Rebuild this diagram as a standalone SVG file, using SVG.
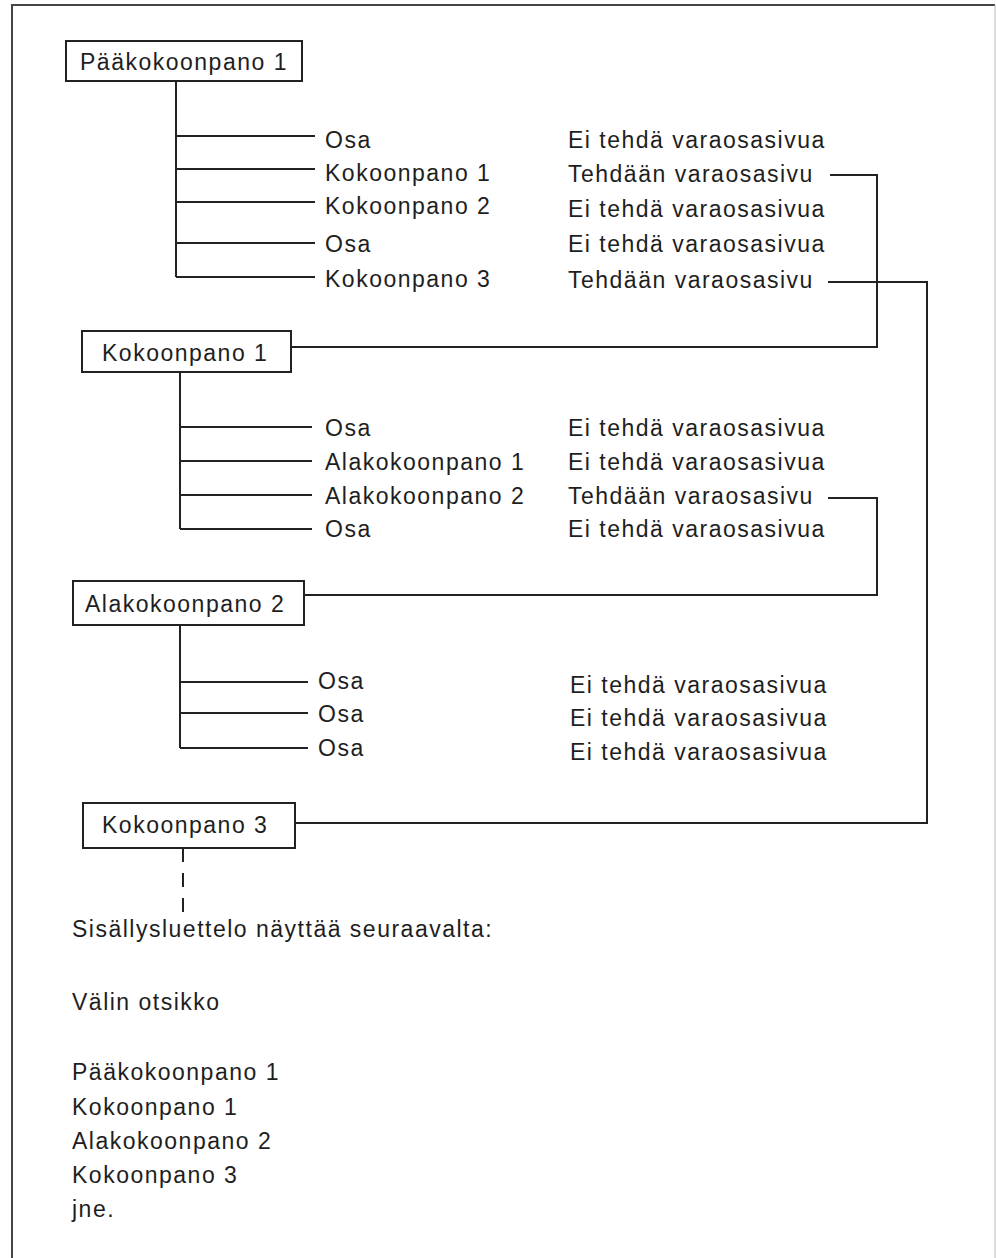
<svg xmlns="http://www.w3.org/2000/svg" width="996" height="1258" viewBox="0 0 996 1258">
  <style>
    .t { font-family: "Liberation Sans", Arial, sans-serif; font-size: 23px; letter-spacing: 1.5px; fill: #1e1e1e; }
    .box { fill: #ffffff; stroke: #222222; stroke-width: 2; }
    .ln { fill: none; stroke: #222222; stroke-width: 2; }
    .dash { fill: none; stroke: #222222; stroke-width: 2; stroke-dasharray: 14 11; }
  </style>
  <rect x="0" y="0" width="996" height="1258" fill="#ffffff"/>
  <!-- page frame -->
  <g id="frame">
    <line x1="11" y1="5" x2="995" y2="5" stroke="#444444" stroke-width="2"/>
    <line x1="12" y1="4" x2="12" y2="1258" stroke="#444444" stroke-width="2"/>
    <line x1="995" y1="5" x2="995" y2="1258" stroke="#bbbbbb" stroke-width="1"/>
  </g>

  <!-- connectors -->
  <g id="connectors">
    <!-- main assembly tree -->
    <path class="ln" d="M176 81 V277 M176 136 H315 M176 169 H315 M176 202 H315 M176 243 H315 M176 277 H315"/>
    <!-- assembly 1 tree -->
    <path class="ln" d="M180 372 V529 M180 427 H312 M180 461 H312 M180 495 H312 M180 529 H312"/>
    <!-- subassembly 2 tree -->
    <path class="ln" d="M180 625 V748 M180 682 H308 M180 713 H308 M180 748 H308"/>
    <!-- spare-part page links -->
    <path class="ln" d="M830 175 H877 V347 H291"/>
    <path class="ln" d="M828 282 H927 V823 H295"/>
    <path class="ln" d="M828 498 H877 V595 H304"/>
    <!-- continuation -->
    <path class="dash" d="M183 848 V914"/>
  </g>

  <g id="node-paakokoonpano1">
    <rect class="box" x="66" y="41" width="236" height="40"/>
    <text class="t" x="80" y="70">Pääkokoonpano 1</text>
  </g>
  <g id="rows-paakokoonpano1">
    <text class="t" x="325" y="148">Osa</text>
    <text class="t" x="325" y="181">Kokoonpano 1</text>
    <text class="t" x="325" y="214">Kokoonpano 2</text>
    <text class="t" x="325" y="252">Osa</text>
    <text class="t" x="325" y="287">Kokoonpano 3</text>
    <text class="t" x="568" y="148">Ei tehdä varaosasivua</text>
    <text class="t" x="568" y="182">Tehdään varaosasivu</text>
    <text class="t" x="568" y="217">Ei tehdä varaosasivua</text>
    <text class="t" x="568" y="252">Ei tehdä varaosasivua</text>
    <text class="t" x="568" y="288">Tehdään varaosasivu</text>
  </g>

  <g id="node-kokoonpano1">
    <rect class="box" x="82" y="331" width="209" height="41"/>
    <text class="t" x="102" y="361">Kokoonpano 1</text>
  </g>
  <g id="rows-kokoonpano1">
    <text class="t" x="325" y="436">Osa</text>
    <text class="t" x="325" y="470">Alakokoonpano 1</text>
    <text class="t" x="325" y="504">Alakokoonpano 2</text>
    <text class="t" x="325" y="537">Osa</text>
    <text class="t" x="568" y="436">Ei tehdä varaosasivua</text>
    <text class="t" x="568" y="470">Ei tehdä varaosasivua</text>
    <text class="t" x="568" y="504">Tehdään varaosasivu</text>
    <text class="t" x="568" y="537">Ei tehdä varaosasivua</text>
  </g>

  <g id="node-alakokoonpano2">
    <rect class="box" x="73" y="581" width="231" height="44"/>
    <text class="t" x="85" y="612">Alakokoonpano 2</text>
  </g>
  <g id="rows-alakokoonpano2">
    <text class="t" x="318" y="689">Osa</text>
    <text class="t" x="318" y="722">Osa</text>
    <text class="t" x="318" y="756">Osa</text>
    <text class="t" x="570" y="693">Ei tehdä varaosasivua</text>
    <text class="t" x="570" y="726">Ei tehdä varaosasivua</text>
    <text class="t" x="570" y="760">Ei tehdä varaosasivua</text>
  </g>

  <g id="node-kokoonpano3">
    <rect class="box" x="83" y="803" width="212" height="45"/>
    <text class="t" x="102" y="833">Kokoonpano 3</text>
  </g>

  <!-- table of contents example -->
  <g id="toc">
    <text class="t" x="72" y="937">Sisällysluettelo näyttää seuraavalta:</text>
    <text class="t" x="72" y="1010">Välin otsikko</text>
    <text class="t" x="72" y="1080">Pääkokoonpano 1</text>
    <text class="t" x="72" y="1115">Kokoonpano 1</text>
    <text class="t" x="72" y="1149">Alakokoonpano 2</text>
    <text class="t" x="72" y="1183">Kokoonpano 3</text>
    <text class="t" x="72" y="1217">jne.</text>
  </g>
</svg>
